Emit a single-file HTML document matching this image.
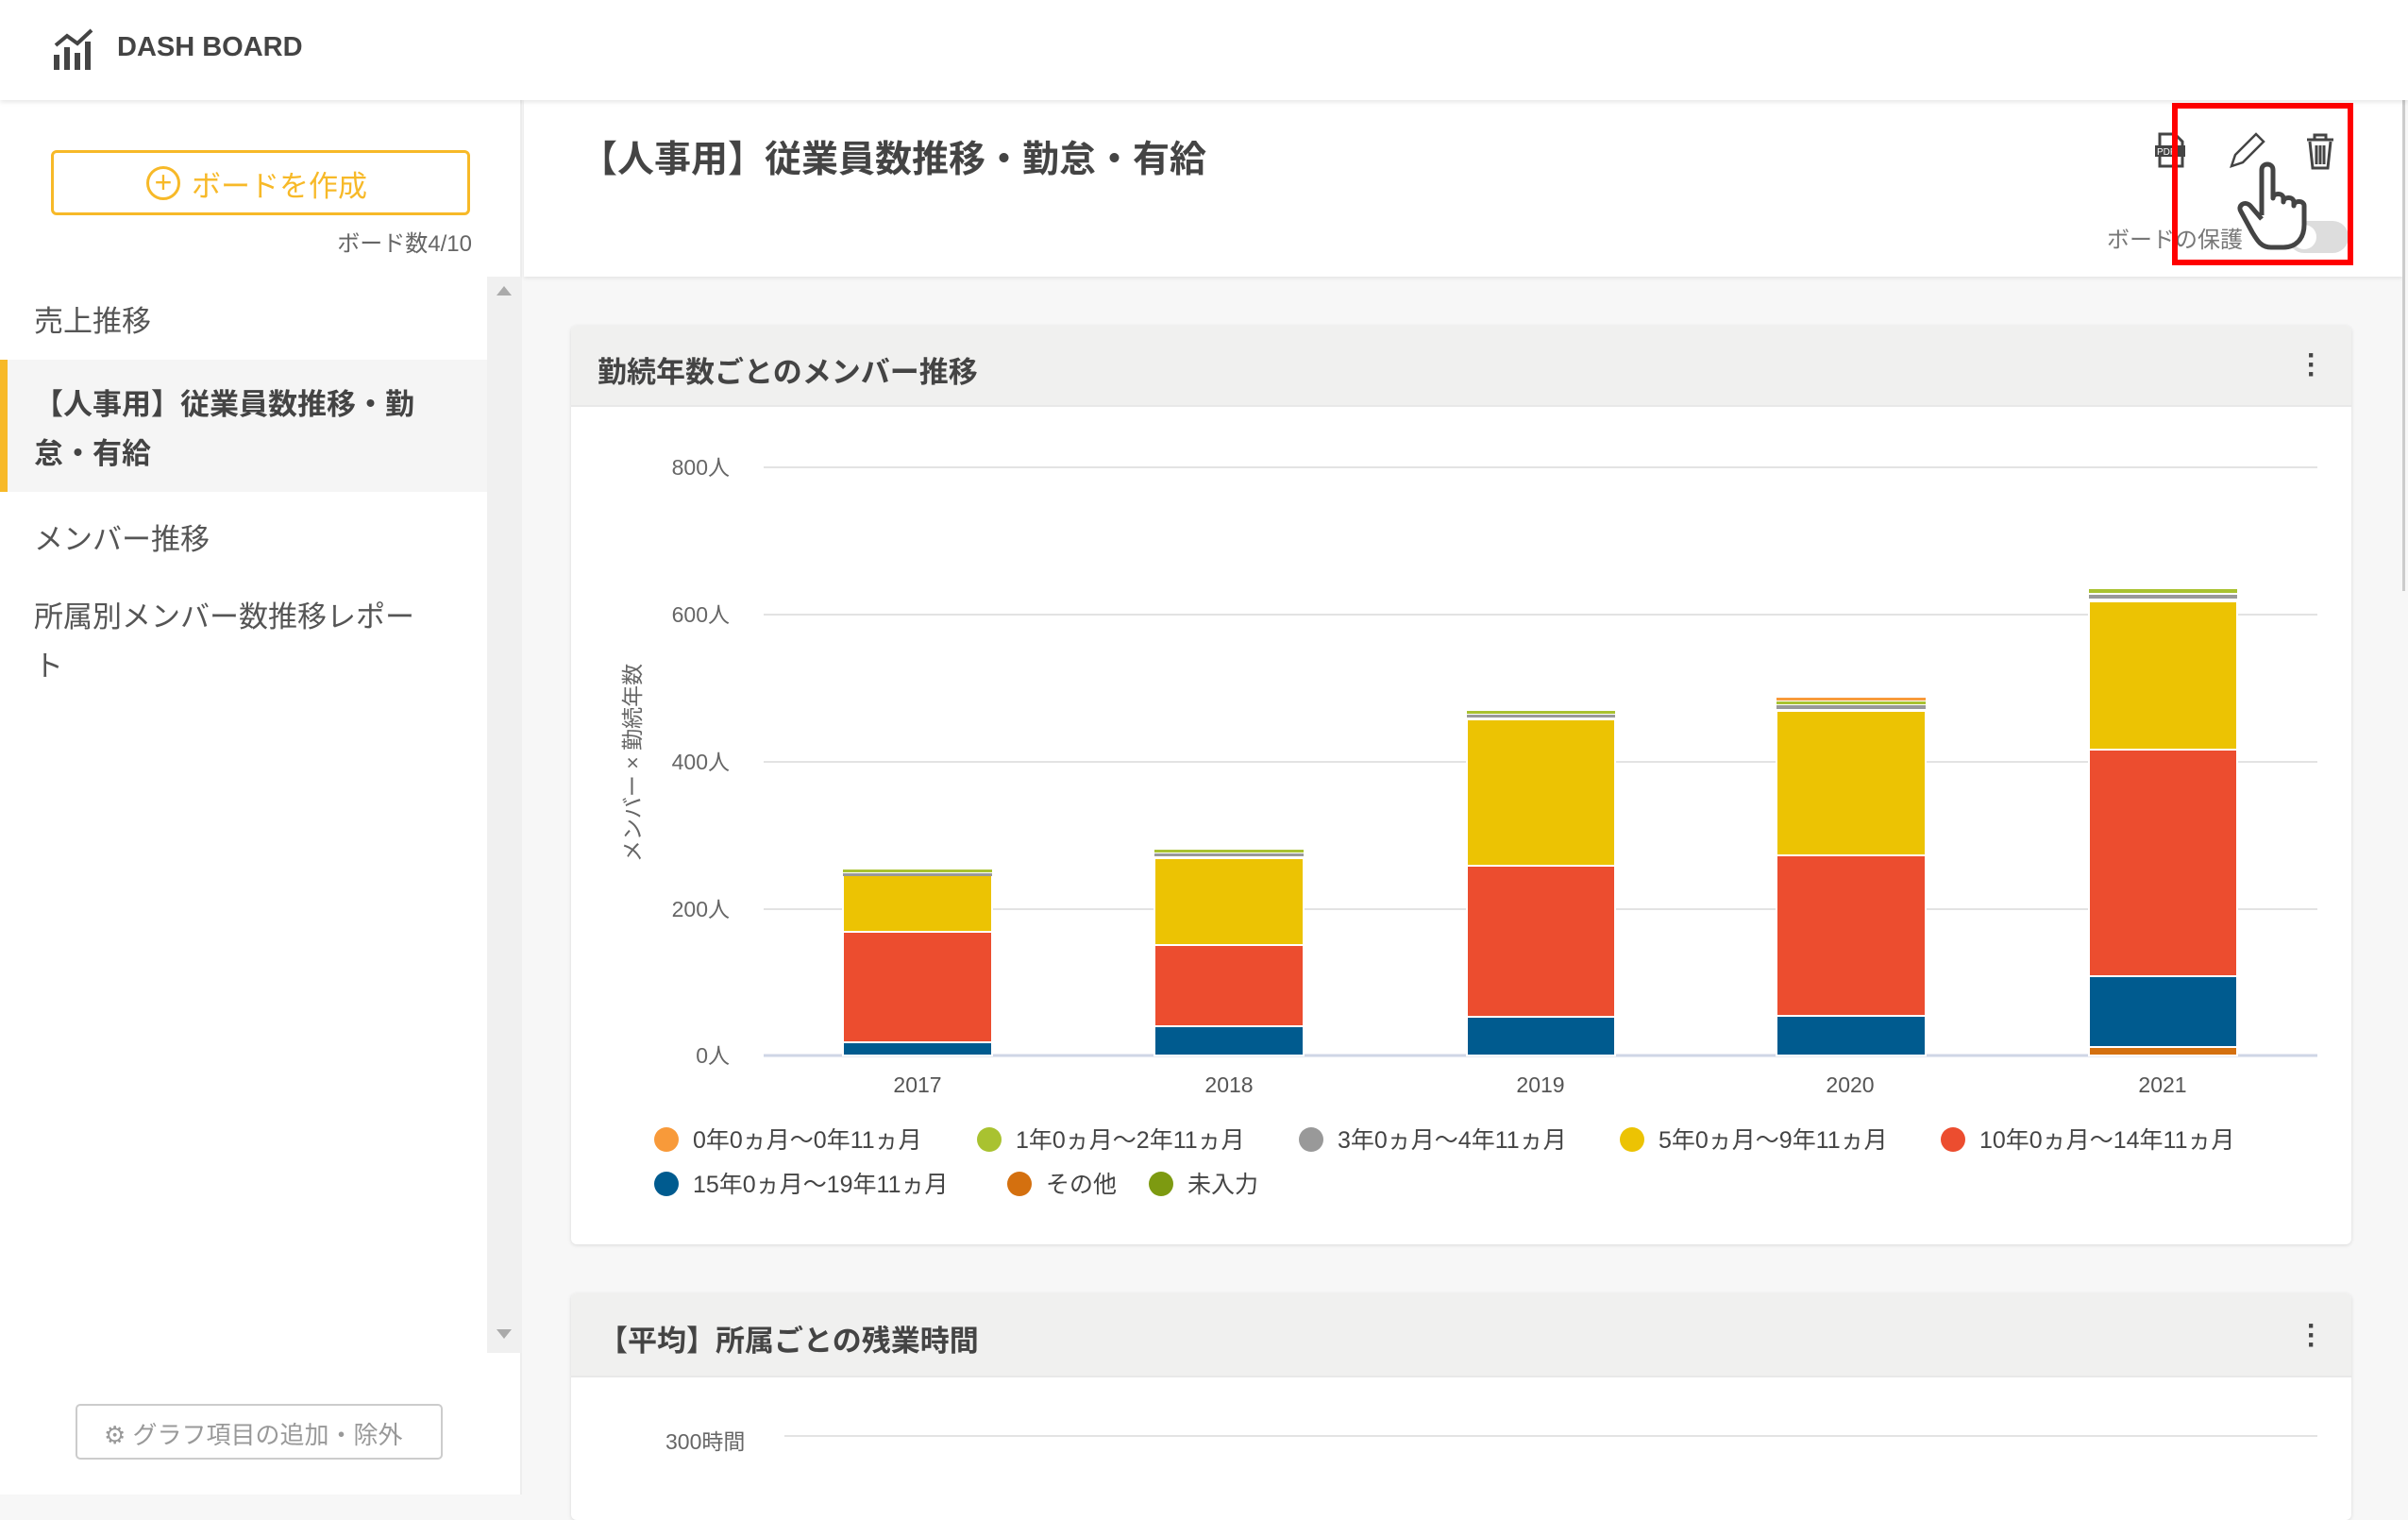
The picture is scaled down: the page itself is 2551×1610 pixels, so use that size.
<!DOCTYPE html>
<html><head><meta charset="utf-8"><style>
*{margin:0;padding:0;box-sizing:border-box}
body{width:2551px;height:1583px;overflow:hidden;background:#f7f7f7;font-family:"Liberation Sans","Noto Sans CJK JP",sans-serif;color:#444;position:relative}
.a{position:absolute;white-space:nowrap}
</style></head><body>
<div class="a" style="left:0;top:0;width:2551px;height:106px;background:#fff;box-shadow:0 2px 5px rgba(0,0,0,.1);z-index:2"></div>
<svg class="a" style="left:55px;top:30px;z-index:3" width="48" height="46" viewBox="0 0 48 46"><g fill="#444"><rect x="2" y="28" width="6" height="16"/><rect x="13" y="20" width="6" height="24"/><rect x="24" y="26" width="6" height="18"/><rect x="35" y="14" width="6" height="30"/></g><polyline points="4,18 16,8 27,16 42,2" fill="none" stroke="#444" stroke-width="4"/></svg>
<div class="a" style="left:124px;top:34px;font-size:29px;font-weight:bold;color:#444;z-index:3">DASH BOARD</div>
<div class="a" style="left:0;top:106px;width:553px;height:1477px;background:#fff;border-right:2px solid #eee"></div>
<div class="a" style="left:54px;top:159px;width:444px;height:69px;border:3px solid #f7b928;border-radius:6px;background:#fff"></div>
<div class="a" style="left:155px;top:176px;width:36px;height:36px;border:3px solid #f7b928;border-radius:50%;color:#f7b928;font-size:32px;line-height:28px;text-align:center">+</div>
<div class="a" style="left:203px;top:172px;font-size:31px;color:#f7b928">ボードを作成</div>
<div class="a" style="left:300px;width:200px;text-align:right;top:238px;font-size:24px;color:#666">ボード数4/10</div>
<div class="a" style="left:516px;top:293px;width:37px;height:1140px;background:#f0f0f0"></div>
<div class="a" style="left:526px;top:303px;width:0;height:0;border-left:8px solid transparent;border-right:8px solid transparent;border-bottom:10px solid #aaa"></div>
<div class="a" style="left:526px;top:1408px;width:0;height:0;border-left:8px solid transparent;border-right:8px solid transparent;border-top:10px solid #aaa"></div>
<div class="a" style="left:36px;top:315px;font-size:31px;color:#555">売上推移</div>
<div class="a" style="left:0;top:381px;width:516px;height:140px;background:#f5f5f5;border-left:8px solid #f7b928"></div>
<div class="a" style="left:36px;top:403px;font-size:31px;font-weight:bold;color:#444;line-height:52px;white-space:normal;width:440px">【人事用】従業員数推移・勤怠・有給</div>
<div class="a" style="left:36px;top:546px;font-size:31px;color:#555">メンバー推移</div>
<div class="a" style="left:36px;top:628px;font-size:31px;color:#555;line-height:52px;white-space:normal;width:420px">所属別メンバー数推移レポート</div>
<div class="a" style="left:80px;top:1487px;width:389px;height:59px;border:2px solid #ccc;border-radius:5px;background:#fff"></div>
<div class="a" style="left:110px;top:1500px;font-size:26px;color:#999">⚙ グラフ項目の追加・除外</div>
<div class="a" style="left:555px;top:106px;width:1990px;height:187px;background:#fff;box-shadow:0 2px 4px rgba(0,0,0,.08)"></div>
<div class="a" style="left:615px;top:138px;font-size:39px;font-weight:bold;color:#444">【人事用】従業員数推移・勤怠・有給</div>
<svg class="a" style="left:2280px;top:138px" width="200" height="50" viewBox="0 0 200 50">
<path d="M8 4h16l8 8v26H8z" fill="none" stroke="#444" stroke-width="3"/><rect x="3" y="16" width="32" height="12" fill="#444"/><text x="5" y="26" font-size="10" fill="#fff" font-family="Liberation Sans">PDF</text>
<path d="M84 38l4-12 22-22 8 8-22 22z" fill="none" stroke="#444" stroke-width="2.5"/>
<path d="M164 10h28M172 10V5h12v5M167 12l3 28h16l3-28M174 16v20M178 16v20M182 16v20" fill="none" stroke="#444" stroke-width="3"/>
</svg>
<div class="a" style="left:2232px;top:234px;font-size:24px;color:#777">ボードの保護</div>
<div class="a" style="left:2424px;top:234px;width:64px;height:34px;border-radius:17px;background:#ddd"></div>
<div class="a" style="left:2428px;top:238px;width:26px;height:26px;border-radius:50%;background:#fff"></div>
<svg class="a" style="left:2368px;top:168px" width="90" height="100" viewBox="0 0 90 100"><path d="M28 60V12c0-8 12-8 12 0v30c0-6 11-6 11 0v4c0-6 11-6 11 0v4c0-6 11-6 11 0v20c0 14-8 24-22 24H38c-10 0-14-6-20-16L6 56c-4-6 4-12 10-6l12 14" fill="#fff" stroke="#444" stroke-width="5" stroke-linejoin="round"/></svg>
<div class="a" style="left:2301px;top:109px;width:192px;height:172px;border:6px solid #f00"></div>
<div class="a" style="left:2545px;top:106px;width:3px;height:520px;background:#ccc"></div>
<div class="a" style="left:605px;top:345px;width:1886px;height:973px;background:#fff;border-radius:6px;box-shadow:0 1px 4px rgba(0,0,0,.12);overflow:hidden"><div style="height:86px;background:#f0f0ef;border-bottom:2px solid #e8e8e8"></div></div>
<div class="a" style="left:633px;top:369px;font-size:31px;font-weight:bold;color:#444">勤続年数ごとのメンバー推移</div>
<div class="a" style="left:2444px;top:372px;font-size:30px;font-weight:bold;color:#444;line-height:10px">·<br>·<br>·</div>
<svg class="a" style="left:0;top:0" width="2551" height="1583">
<g stroke="#e3e3e3" stroke-width="2"><line x1="809" y1="495" x2="2455" y2="495"/><line x1="809" y1="651" x2="2455" y2="651"/><line x1="809" y1="807" x2="2455" y2="807"/><line x1="809" y1="963" x2="2455" y2="963"/></g>
<line x1="809" y1="1118" x2="2455" y2="1118" stroke="#cfd6e6" stroke-width="3"/>
<g font-family="Liberation Sans,Noto Sans CJK JP,sans-serif" font-size="23" fill="#666" text-anchor="end"><text x="773" y="503">800人</text><text x="773" y="659">600人</text><text x="773" y="815">400人</text><text x="773" y="971">200人</text><text x="773" y="1126">0人</text></g>
<text transform="translate(678,808) rotate(-90)" font-family="Liberation Sans,Noto Sans CJK JP,sans-serif" font-size="23" fill="#666" text-anchor="middle">メンバー × 勤続年数</text>
<g stroke="#fff" stroke-width="2">
<rect x="893" y="1104" width="158" height="14" fill="#005b8f"/><rect x="893" y="987" width="158" height="117" fill="#ec4d2f"/><rect x="893" y="927" width="158" height="60" fill="#ecc303"/><rect x="893" y="925" width="158" height="3" fill="#999" stroke="none"/><rect x="893" y="921" width="158" height="3" fill="#a9c230" stroke="none"/>
<rect x="1223" y="1087" width="158" height="31" fill="#005b8f"/><rect x="1223" y="1001" width="158" height="86" fill="#ec4d2f"/><rect x="1223" y="909" width="158" height="92" fill="#ecc303"/><rect x="1223" y="904" width="158" height="3" fill="#999" stroke="none"/><rect x="1223" y="900" width="158" height="3" fill="#a9c230" stroke="none"/>
<rect x="1554" y="1077" width="157" height="41" fill="#005b8f"/><rect x="1554" y="917" width="157" height="160" fill="#ec4d2f"/><rect x="1554" y="762" width="157" height="155" fill="#ecc303"/><rect x="1554" y="757" width="157" height="3" fill="#999" stroke="none"/><rect x="1554" y="753" width="157" height="3" fill="#a9c230" stroke="none"/>
<rect x="1882" y="1076" width="158" height="42" fill="#005b8f"/><rect x="1882" y="906" width="158" height="170" fill="#ec4d2f"/><rect x="1882" y="753" width="158" height="153" fill="#ecc303"/><rect x="1882" y="747" width="158" height="4" fill="#999" stroke="none"/><rect x="1882" y="743" width="158" height="3" fill="#a9c230" stroke="none"/><rect x="1882" y="739" width="158" height="3" fill="#f89a3a" stroke="none"/>
<rect x="2213" y="1109" width="157" height="9" fill="#d4700f"/><rect x="2213" y="1034" width="157" height="75" fill="#005b8f"/><rect x="2213" y="794" width="157" height="240" fill="#ec4d2f"/><rect x="2213" y="637" width="157" height="157" fill="#ecc303"/><rect x="2213" y="630" width="157" height="4" fill="#999" stroke="none"/><rect x="2213" y="624" width="157" height="4" fill="#a9c230" stroke="none"/>
</g>
<g font-family="Liberation Sans,Noto Sans CJK JP,sans-serif" font-size="23" fill="#555" text-anchor="middle"><text x="972" y="1157">2017</text><text x="1302" y="1157">2018</text><text x="1632" y="1157">2019</text><text x="1960" y="1157">2020</text><text x="2291" y="1157">2021</text></g>
<g font-family="Liberation Sans,Noto Sans CJK JP,sans-serif" font-size="25" fill="#444">
<circle cx="706" cy="1207" r="13" fill="#f89a3a"/><text x="734" y="1216">0年0ヵ月～0年11ヵ月</text>
<circle cx="1048" cy="1207" r="13" fill="#a9c230"/><text x="1076" y="1216">1年0ヵ月～2年11ヵ月</text>
<circle cx="1389" cy="1207" r="13" fill="#999"/><text x="1417" y="1216">3年0ヵ月～4年11ヵ月</text>
<circle cx="1729" cy="1207" r="13" fill="#ecc303"/><text x="1757" y="1216">5年0ヵ月～9年11ヵ月</text>
<circle cx="2069" cy="1207" r="13" fill="#ec4d2f"/><text x="2097" y="1216">10年0ヵ月～14年11ヵ月</text>
<circle cx="706" cy="1254" r="13" fill="#005b8f"/><text x="734" y="1263">15年0ヵ月～19年11ヵ月</text>
<circle cx="1080" cy="1254" r="13" fill="#d4700f"/><text x="1108" y="1263">その他</text>
<circle cx="1230" cy="1254" r="13" fill="#7d9a11"/><text x="1258" y="1263">未入力</text>
</g>
</svg>
<div class="a" style="left:605px;top:1370px;width:1886px;height:240px;background:#fff;border-radius:6px;box-shadow:0 1px 4px rgba(0,0,0,.12);overflow:hidden"><div style="height:89px;background:#f0f0ef;border-bottom:2px solid #e8e8e8"></div></div>
<div class="a" style="left:634px;top:1395px;font-size:31px;font-weight:bold;color:#444">【平均】所属ごとの残業時間</div>
<div class="a" style="left:2444px;top:1400px;font-size:30px;font-weight:bold;color:#444;line-height:10px">·<br>·<br>·</div>
<div class="a" style="left:705px;top:1508px;font-size:23px;color:#666">300時間</div>
<div class="a" style="left:831px;top:1520px;width:1624px;height:2px;background:#e3e3e3"></div>
</body></html>
